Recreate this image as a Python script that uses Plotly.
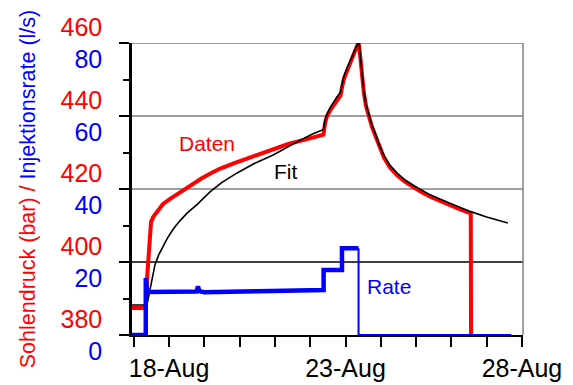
import pandas as pd
import plotly.graph_objects as go

BASE = pd.Timestamp("2008-08-18")
DAY_MS = 86400000

# Sohlendruck (bar); time in days relative to 18-Aug 00:00
daten_t = [-1.10, -0.66, -0.62, -0.57, -0.51, -0.45, -0.31, -0.17, 0.03, 0.23,
           0.42, 0.60, 0.94, 1.20, 1.45, 1.85, 2.22, 2.59, 3.07, 3.40,
           3.72, 4.05, 4.375, 4.42, 4.47, 4.56, 4.66, 4.76, 4.86, 4.90,
           4.95, 5.05, 5.14, 5.26, 5.37, 5.40, 5.43, 5.47, 5.52, 5.58,
           5.66, 5.75, 5.85, 5.96, 6.09, 6.25, 6.47, 6.70, 6.94, 7.15,
           7.40, 7.65, 7.89, 8.20, 8.55, 8.56]
daten_p = [387.4, 387.4, 396.0, 404.0, 411.0, 412.3, 414.3, 415.9, 417.3, 418.6,
           419.8, 420.9, 423.0, 424.4, 425.6, 427.1, 428.4, 429.8, 431.5, 432.4,
           433.2, 434.1, 434.9, 438.0, 439.8, 441.5, 443.0, 444.3, 445.6, 447.8,
           450.0, 452.5, 454.6, 457.5, 460.2, 458.0, 454.5, 450.0, 446.4, 442.8,
           440.0, 437.0, 434.5, 431.5, 428.6, 426.0, 423.7, 421.9, 420.4, 419.2,
           417.9, 416.8, 415.9, 414.6, 413.3, 370.0]

# Fit curve (bar)
fit_t = [-1.10, -0.63, -0.60, -0.54, -0.47, -0.40, -0.30, -0.20, -0.05, 0.11,
         0.30, 0.51, 0.80, 1.16, 1.50, 1.93, 2.40, 2.95, 3.30, 3.72,
         4.05, 4.375, 4.42, 4.47, 4.56, 4.66, 4.76, 4.86, 4.90, 4.95,
         5.05, 5.14, 5.26, 5.38, 5.40, 5.43, 5.47, 5.52, 5.58, 5.66,
         5.75, 5.85, 5.96, 6.09, 6.25, 6.47, 6.70, 6.94, 7.40, 7.89,
         8.20, 8.55, 9.00, 9.60]
fit_p = [388.2, 388.2, 389.5, 392.3, 396.2, 399.2, 401.8, 403.8, 406.5, 408.9,
         411.2, 413.4, 415.8, 419.2, 421.8, 424.4, 426.9, 429.3, 431.2, 433.4,
         435.0, 436.3, 438.8, 440.4, 442.2, 443.9, 445.3, 446.6, 448.8, 450.8,
         453.3, 455.3, 458.0, 460.6, 458.5, 455.0, 450.5, 446.9, 443.3, 440.5,
         437.5, 435.1, 432.0, 429.2, 426.6, 424.3, 422.4, 420.9, 418.4, 416.4,
         415.1, 413.8, 412.3, 410.7]

# Injektionsrate (l/s)
rate_t = [-1.10, -0.66, -0.66, -0.62, 0.78, 0.82, 0.86, 1.00, 2.50, 4.38,
          4.38, 4.90, 4.90, 5.37, 5.37, 9.70]
rate_q = [0.0, 0.0, 15.6, 11.8, 11.9, 13.3, 12.0, 11.7, 12.0, 12.3,
          17.8, 17.8, 23.8, 23.8, 0.0, 0.0]

# Tick values of the shared left axis
p_ticks = [380, 400, 420, 440, 460]
q_ticks = [0, 20, 40, 60, 80]
p_minor = [390, 410, 430, 450]

RED = "#ff0000"
BLUE = "#0000ff"
GRID = "#808080"
FONT = "Liberation Sans, Arial, sans-serif"


def to_dates(days):
    return [BASE + pd.Timedelta(days=d) for d in days]


n_inj = rate_q.index(0.0, 2)  # index of the shut-in drop

fig = go.Figure()
fig.add_trace(go.Scatter(x=to_dates(daten_t), y=daten_p, mode="lines",
                         line=dict(color=RED, width=4), name="Daten"))
fig.add_trace(go.Scatter(x=to_dates(fit_t), y=fit_p, mode="lines",
                         line=dict(color="black", width=1.6), name="Fit"))
fig.add_trace(go.Scatter(x=to_dates(rate_t[:n_inj]), y=rate_q[:n_inj],
                         mode="lines", yaxis="y2",
                         line=dict(color=BLUE, width=4.5), name="Rate"))
fig.add_trace(go.Scatter(x=to_dates(rate_t[n_inj - 1:]), y=rate_q[n_inj - 1:],
                         mode="lines", yaxis="y2",
                         line=dict(color=BLUE, width=2), name="Rate"))

ticktext = [f"<span style='color:{RED}'>{p}</span><br>"
            f"<span style='color:{BLUE}'>{q}</span>"
            for p, q in zip(p_ticks, q_ticks)]

# horizontal grid lines (the 400-bar line is black), plus the right frame edge
shapes = [dict(type="line", xref="paper", yref="y", x0=0, x1=1, y0=p, y1=p,
               line=dict(color="black" if p == 400 else GRID, width=1.3),
               layer="below")
          for p in p_ticks[1:]]
shapes.append(dict(type="line", xref="paper", yref="paper", x0=1, x1=1,
                   y0=0, y1=1, line=dict(color=GRID, width=1.5), layer="below"))

fig.update_layout(
    width=573, height=385,
    margin=dict(l=132, r=50, t=43, b=50, autoexpand=False),
    paper_bgcolor="white", plot_bgcolor="white",
    showlegend=False,
    font=dict(family=FONT, color="black"),
    xaxis=dict(
        type="date", automargin=False,
        range=[BASE + pd.Timedelta(days=-1.05), BASE + pd.Timedelta(days=10.03)],
        tick0=BASE, dtick=5 * DAY_MS, tickformat="%d-%b",
        ticks="outside", ticklen=10, tickwidth=1.5, tickcolor="black",
        showline=True, linecolor="black", linewidth=2,
        showgrid=False, zeroline=False,
        tickfont=dict(size=25, color="black"),
        minor=dict(dtick=DAY_MS, tick0=BASE, ticks="outside", ticklen=10,
                   tickwidth=1.5, tickcolor="black", showgrid=False),
    ),
    yaxis=dict(
        range=[380, 460], automargin=False,
        tickmode="array", tickvals=p_ticks, ticktext=ticktext,
        ticks="outside", ticklen=10, tickwidth=2, tickcolor="black",
        showline=True, linecolor="black", linewidth=2.5,
        showgrid=False, zeroline=False,
        tickfont=dict(size=25),
        ticklabelstandoff=12,
        minor=dict(tickmode="array", tickvals=p_minor, ticks="outside",
                   ticklen=6, tickwidth=2, tickcolor="black", showgrid=False),
        title=dict(
            text=(f"<span style='color:{RED}'>Sohlendruck (bar) /</span>"
                  f"<span style='color:{BLUE}'> Injektionsrate (l/s)</span>"),
            font=dict(size=21.5), standoff=20),
    ),
    yaxis2=dict(range=[0, 80], overlaying="y", visible=False),
    shapes=shapes,
    annotations=[
        dict(x=BASE + pd.Timedelta(days=1.08), y=432.6, xref="x", yref="y",
             text="Daten", showarrow=False, font=dict(size=21, color=RED)),
        dict(x=BASE + pd.Timedelta(days=3.31), y=424.7, xref="x", yref="y",
             text="Fit", showarrow=False, font=dict(size=21, color="black")),
        dict(x=BASE + pd.Timedelta(days=6.24), y=13.2, xref="x", yref="y2",
             text="Rate", showarrow=False, font=dict(size=21, color=BLUE)),
    ],
)

fig.write_html("out.html")
